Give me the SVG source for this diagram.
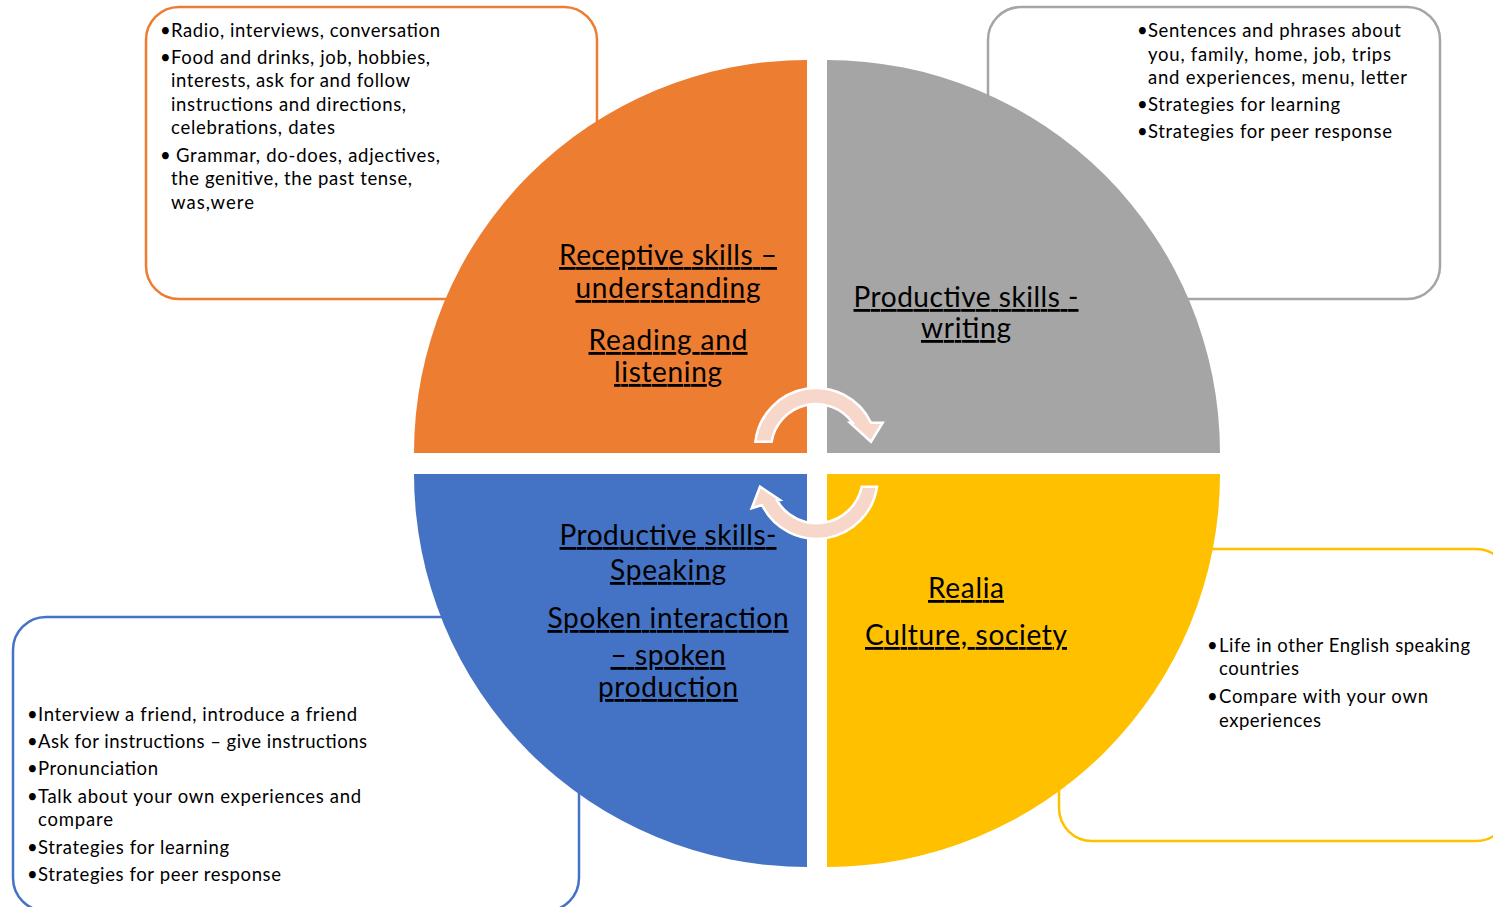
<svg xmlns="http://www.w3.org/2000/svg" width="1493" height="907" viewBox="0 0 1493 907">
<style>
.box{fill:#fff;stroke-width:2.5}
.bt{font-family:Lato,"Liberation Sans",sans-serif;font-size:18.5px;fill:#000}
.lbl{font-family:Lato,"Liberation Sans",sans-serif;font-size:28px;fill:#000;text-anchor:middle;text-decoration:underline}
.arr{fill:#F8D7CB;stroke:#fff;stroke-width:2.5;stroke-linejoin:miter}
</style>
<rect width="1493" height="907" fill="#fff"/>
<g id="box-orange">
<rect class="box" x="146" y="7" width="451" height="292" rx="33" stroke="#ED7D31"/>
<g class="bt">
<text x="160" y="37">•</text><text x="171" y="37" textLength="269" lengthAdjust="spacing">Radio, interviews, conversation</text>
<text x="160" y="64">•</text><text x="171" y="64" textLength="259" lengthAdjust="spacing">Food and drinks, job, hobbies,</text>
<text x="171" y="87" textLength="239" lengthAdjust="spacing">interests, ask for and follow</text>
<text x="171" y="111" textLength="235" lengthAdjust="spacing">instructions and directions,</text>
<text x="171" y="134" textLength="164" lengthAdjust="spacing">celebrations, dates</text>
<text x="160" y="162">•</text><text x="176" y="162" textLength="264" lengthAdjust="spacing">Grammar, do-does, adjectives,</text>
<text x="171" y="185" textLength="241" lengthAdjust="spacing">the genitive, the past tense,</text>
<text x="171" y="209" textLength="83" lengthAdjust="spacing">was,were</text>
</g>
</g>
<g id="box-gray">
<rect class="box" x="988" y="7" width="452" height="292" rx="33" stroke="#A5A5A5"/>
<g class="bt">
<text x="1137" y="37">•</text><text x="1148" y="37" textLength="253" lengthAdjust="spacing">Sentences and phrases about</text>
<text x="1148" y="61" textLength="243" lengthAdjust="spacing">you, family, home, job, trips</text>
<text x="1148" y="84" textLength="259" lengthAdjust="spacing">and experiences, menu, letter</text>
<text x="1137" y="111">•</text><text x="1148" y="111" textLength="192" lengthAdjust="spacing">Strategies for learning</text>
<text x="1137" y="138">•</text><text x="1148" y="138" textLength="244" lengthAdjust="spacing">Strategies for peer response</text>
</g>
</g>
<g id="box-blue">
<rect class="box" x="13" y="617" width="566" height="294" rx="33" stroke="#4472C4"/>
<g class="bt">
<text x="27" y="721">•</text><text x="38" y="721" textLength="319" lengthAdjust="spacing">Interview a friend, introduce a friend</text>
<text x="27" y="748">•</text><text x="38" y="748" textLength="329" lengthAdjust="spacing">Ask for instructions – give instructions</text>
<text x="27" y="775">•</text><text x="38" y="775" textLength="120" lengthAdjust="spacing">Pronunciation</text>
<text x="27" y="803">•</text><text x="38" y="803" textLength="323" lengthAdjust="spacing">Talk about your own experiences and</text>
<text x="38" y="826" textLength="75" lengthAdjust="spacing">compare</text>
<text x="27" y="854">•</text><text x="38" y="854" textLength="191" lengthAdjust="spacing">Strategies for learning</text>
<text x="27" y="881">•</text><text x="38" y="881" textLength="243" lengthAdjust="spacing">Strategies for peer response</text>
</g>
</g>
<g id="box-yellow">
<rect class="box" x="1059" y="549" width="450" height="292" rx="33" stroke="#FFC000"/>
<g class="bt">
<text x="1207" y="652">•</text><text x="1219" y="652" textLength="251" lengthAdjust="spacing">Life in other English speaking</text>
<text x="1219" y="675" textLength="80" lengthAdjust="spacing">countries</text>
<text x="1207" y="703">•</text><text x="1219" y="703" textLength="209" lengthAdjust="spacing">Compare with your own</text>
<text x="1219" y="727" textLength="102" lengthAdjust="spacing">experiences</text>
</g>
</g>
<g id="q-orange">
<path d="M807,453 L414,453 A393,393 0 0 1 807,60 Z" fill="#ED7D31"/>
<text class="lbl" x="668" y="265" textLength="218" lengthAdjust="spacing">Receptive skills –</text>
<text class="lbl" x="668" y="298" textLength="185" lengthAdjust="spacing">understanding</text>
<text class="lbl" x="668" y="350" textLength="159" lengthAdjust="spacing">Reading and</text>
<text class="lbl" x="668" y="382" textLength="108" lengthAdjust="spacing">listening</text>
</g>
<g id="q-gray">
<path d="M827,453 L827,60 A393,393 0 0 1 1220,453 Z" fill="#A5A5A5"/>
<text class="lbl" x="966" y="307" textLength="225" lengthAdjust="spacing">Productive skills -</text>
<text class="lbl" x="966" y="338" textLength="90" lengthAdjust="spacing">writing</text>
</g>
<g id="q-blue">
<path d="M807,474 L807,867 A393,393 0 0 1 414,474 Z" fill="#4472C4"/>
<text class="lbl" x="668" y="545" textLength="217" lengthAdjust="spacing">Productive skills-</text>
<text class="lbl" x="668" y="580" textLength="116" lengthAdjust="spacing">Speaking</text>
<text class="lbl" x="668" y="628" textLength="241" lengthAdjust="spacing">Spoken interaction</text>
<text class="lbl" x="668" y="665" textLength="115" lengthAdjust="spacing">– spoken</text>
<text class="lbl" x="668" y="697" textLength="140" lengthAdjust="spacing">production</text>
</g>
<g id="q-yellow">
<path d="M827,474 L1220,474 A393,393 0 0 1 827,867 Z" fill="#FFC000"/>
<text class="lbl" x="966" y="598" textLength="76" lengthAdjust="spacing">Realia</text>
<text class="lbl" x="966" y="645" textLength="202" lengthAdjust="spacing">Culture, society</text>
</g>
<g id="connectors">
<path class="arr" d="M755.4,441.7 A61,61 0 0 1 871,422.7 L882.7,422.7 L871,441.7 L850,422.7 L852.5,422.7 A45,45 0 0 0 771.6,441.7 Z"/>
<path class="arr" d="M877,486.7 A61,61 0 0 1 762,505 L751.7,508.3 L760,486.7 L780,500 L777,500.5 A46,46 0 0 0 861.7,486.7 Z"/>
</g>
</svg>
